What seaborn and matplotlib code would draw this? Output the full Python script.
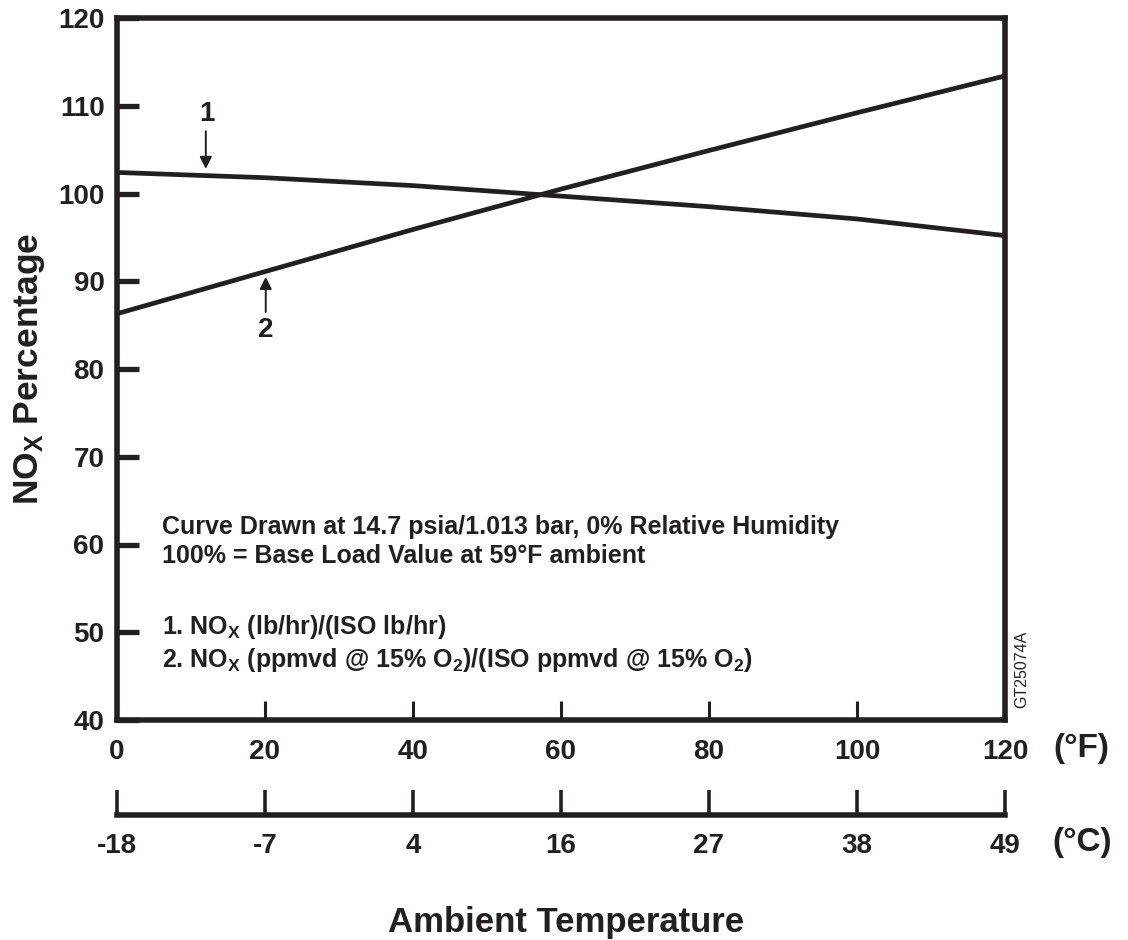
import matplotlib
matplotlib.use("Agg")
import matplotlib.pyplot as plt
import pandas as pd
import seaborn as sns

# Ambient temperature (deg F) at which the curves are read
temp_f = [0, 20, 40, 60, 80, 100, 120]
# Curve 1: NOx (lb/hr)/(ISO lb/hr), percent
nox_mass = [102.4, 101.8, 100.9, 99.7, 98.5, 97.1, 95.2]
# Curve 2: NOx (ppmvd @ 15% O2)/(ISO ppmvd @ 15% O2), percent
nox_ppm = [86.3, 91.1, 95.9, 100.5, 104.9, 109.2, 113.4]

f_ticks = [0, 20, 40, 60, 80, 100, 120]
f_labels = ["0", "20", "40", "60", "80", "100", "120"]
c_labels = ["-18", "-7", "4", "16", "27", "38", "49"]
y_ticks = [40, 50, 60, 70, 80, 90, 100, 110, 120]

INK = "#231f20"

sns.set_theme(style="white")
plt.rcParams["font.family"] = ["Liberation Sans", "DejaVu Sans"]
plt.rcParams["font.weight"] = "bold"
plt.rcParams["mathtext.default"] = "regular"
plt.rcParams["text.color"] = INK
plt.rcParams["axes.labelcolor"] = INK
plt.rcParams["xtick.color"] = INK
plt.rcParams["ytick.color"] = INK

W, H = 1128, 940
fig = plt.figure(figsize=(W / 100, H / 100), dpi=100)
ax = fig.add_axes([117 / W, 1 - 720 / H, 888 / W, 702 / H])

df = pd.DataFrame({
    "temp": temp_f + temp_f,
    "nox": nox_mass + nox_ppm,
    "curve": ["1"] * len(temp_f) + ["2"] * len(temp_f),
})
sns.lineplot(data=df, x="temp", y="nox", hue="curve",
             palette=[INK, INK], linewidth=3.4, legend=False, ax=ax)

ax.set_xlim(0, 120)
ax.set_ylim(40, 120)
for sp in ax.spines.values():
    sp.set_visible(True)
    sp.set_linewidth(4.0)
    sp.set_color(INK)

ax.set_yticks(y_ticks)
ax.set_xticks(f_ticks, labels=f_labels)
ax.tick_params(axis="y", direction="in", length=16, width=3.8, pad=9,
               labelsize=20, left=True, right=False)
ax.tick_params(axis="x", direction="in", length=14, width=2.2, pad=14,
               labelsize=20, bottom=True, top=False)
ax.set_xlabel("")
ax.set_ylabel("NO$_X$ Percentage", fontsize=25.5, fontweight="bold")
ax.yaxis.set_label_coords(-0.079, 0.5)

# Celsius scale below the Fahrenheit axis
sec = ax.secondary_xaxis(-0.1353)
sec.set_xticks(f_ticks, labels=c_labels)
sec.spines["bottom"].set_linewidth(4.0)
sec.spines["bottom"].set_color(INK)
sec.tick_params(axis="x", direction="in", length=18, width=2.6, pad=13,
                labelsize=20)

# Curve call-outs
ax.annotate("", xy=(12.0, 102.8), xytext=(12.0, 107.1),
            arrowprops=dict(arrowstyle="-|>", color=INK, lw=1.4,
                            mutation_scale=18, shrinkA=0, shrinkB=0))
ax.text(12.2, 109.1, "1", fontsize=20, ha="center", va="center")
ax.annotate("", xy=(20.1, 90.5), xytext=(20.1, 86.5),
            arrowprops=dict(arrowstyle="-|>", color=INK, lw=1.4,
                            mutation_scale=18, shrinkA=0, shrinkB=0))
ax.text(20.1, 84.4, "2", fontsize=20, ha="center", va="center")

# Notes inside the plot area
note_kw = dict(fontsize=18, ha="left", va="center")
ax.text(6.1, 62.0, "Curve Drawn at 14.7 psia/1.013 bar, 0% Relative Humidity", **note_kw)
ax.text(6.1, 58.7, "100% = Base Load Value at 59°F ambient", **note_kw)
ax.text(6.1, 50.6, "1. NO$_X$ (lb/hr)/(ISO lb/hr)", **note_kw)
ax.text(6.1, 46.8, "2. NO$_X$ (ppmvd @ 15% O$_2$)/(ISO ppmvd @ 15% O$_2$)", **note_kw)

ax.text(1.019, 0.072, "GT25074A", transform=ax.transAxes, rotation=90,
        fontsize=11.5, fontweight="normal", ha="center", va="center")

# Unit tags and axis title
fig.text(1081 / W, 1 - 748 / H, "(°F)", fontsize=24, ha="center", va="center")
fig.text(1082 / W, 1 - 843 / H, "(°C)", fontsize=24, ha="center", va="center")
fig.text(566 / W, 1 - 932 / H, "Ambient Temperature", fontsize=25,
         ha="center", va="baseline")

fig.savefig("out.png", dpi=100, facecolor="white")
